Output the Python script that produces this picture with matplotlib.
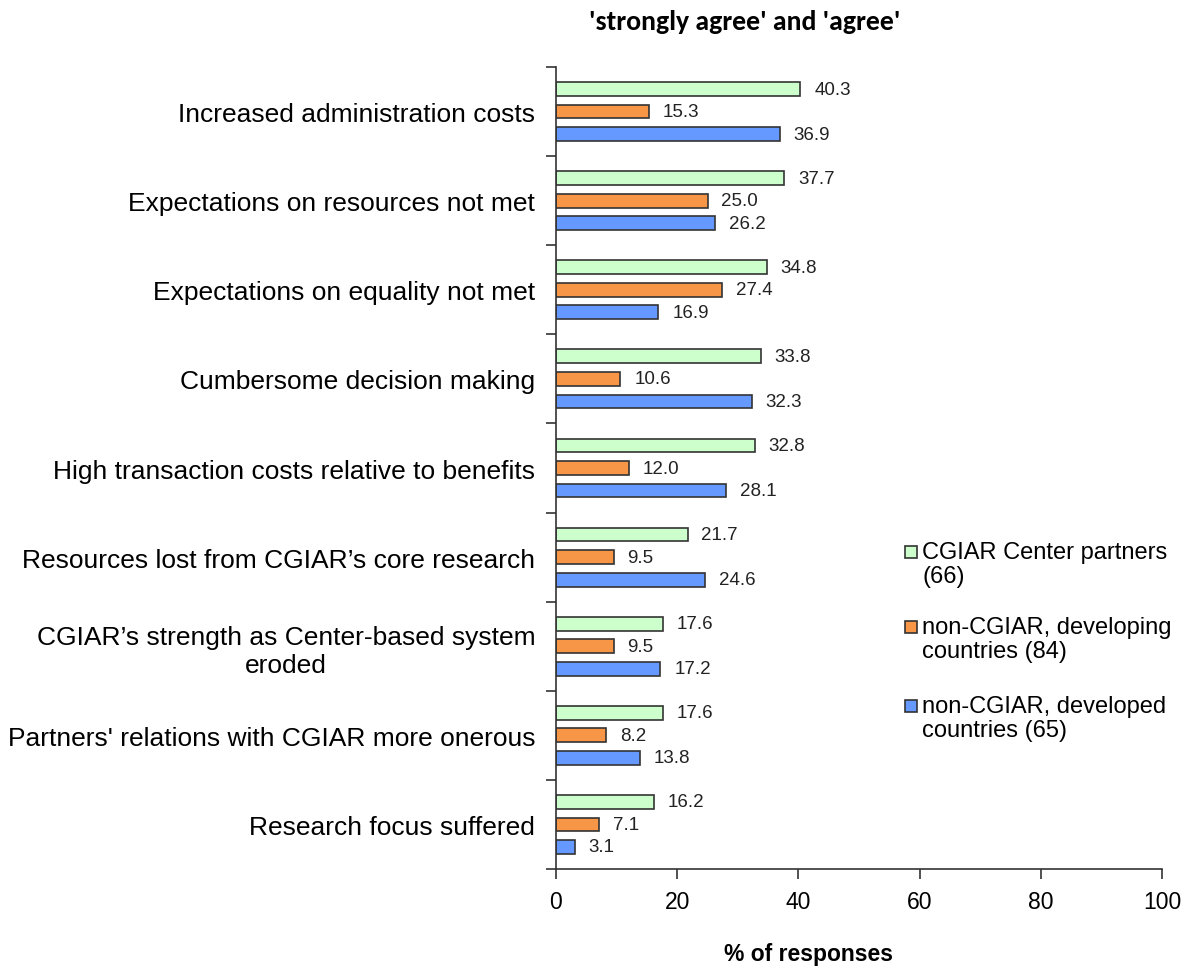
import matplotlib
matplotlib.use("Agg")
import matplotlib.pyplot as plt
from matplotlib import font_manager
from matplotlib.patches import Rectangle
import numpy as np

categories = [
    "Increased administration costs",
    "Expectations on resources not met",
    "Expectations on equality not met",
    "Cumbersome decision making",
    "High transaction costs relative to benefits",
    "Resources lost from CGIAR\u2019s core research",
    "CGIAR\u2019s strength as Center-based system\neroded",
    "Partners' relations with CGIAR more onerous",
    "Research focus suffered",
]
series_names = [
    "CGIAR Center partners\n(66)",
    "non-CGIAR, developing\ncountries (84)",
    "non-CGIAR, developed\ncountries (65)",
]
cgiar = [40.3, 37.7, 34.8, 33.8, 32.8, 21.7, 17.6, 17.6, 16.2]
developing = [15.3, 25.0, 27.4, 10.6, 12.0, 9.5, 9.5, 8.2, 7.1]
developed = [36.9, 26.2, 16.9, 32.3, 28.1, 24.6, 17.2, 13.8, 3.1]
xticks = [0, 20, 40, 60, 80, 100]

names = {f.name for f in font_manager.fontManager.ttflist}
base = "Liberation Sans" if "Liberation Sans" in names else "DejaVu Sans"
narrow = "Liberation Sans Narrow" if "Liberation Sans Narrow" in names else base
titlef = "Carlito" if "Carlito" in names else ("Lato" if "Lato" in names else base)

colors = ["#CCFFCC", "#F79646", "#6699FF"]
edge = "#333333"

fig = plt.figure(figsize=(11.92, 9.70), dpi=100)
ax = fig.add_axes([556/1192, 1-870/970, (1162-556)/1192, (870-68)/970])

n = len(categories)
centers = np.arange(n) + 0.5
h = 0.155
off = 0.253
data = [cgiar, developing, developed]
for k, (vals, c, lab) in enumerate(zip(data, colors, series_names)):
    y = centers + (k - 1) * off
    ax.barh(y, vals, height=h, color=c, edgecolor=edge, linewidth=1.2, label=lab)
    for yy, v in zip(y, vals):
        ax.text(v + 2.3, yy, f"{v:.1f}", va="center", ha="left",
                fontsize=13.5, family=narrow, color="#222222")

ax.set_xlim(0, 100)
ax.set_ylim(n, 0)
ax.set_xticks(xticks)
ax.set_xticklabels([str(t) for t in xticks], fontsize=16.5, family=base)
ax.set_yticks(np.arange(n + 1))
ax.set_yticklabels([])
ax.set_yticks(centers, minor=True)
ax.set_yticklabels(categories, minor=True, fontsize=19, family=base,
                   multialignment="center")
ax.tick_params(axis="y", which="minor", length=0, pad=15)
ax.tick_params(axis="y", which="major", length=7, width=1.2, color=edge)
ax.tick_params(axis="x", length=7, width=1.2, color=edge, pad=8)
for s in ["top", "right"]:
    ax.spines[s].set_visible(False)
for s in ["left", "bottom"]:
    ax.spines[s].set_color(edge)
    ax.spines[s].set_linewidth(1.2)

fig.text(808/1192, 1-955/970, "% of responses", ha="center", va="center",
         fontsize=16.5, family=base, weight="bold")
fig.text(745/1192, 1-22/970, "'strongly agree' and 'agree'", ha="center", va="center",
         fontsize=20, family=titlef, weight="bold")

# legend (manual layout: swatch aligned with first text line)
leg_y = [553, 628, 707]
for c, lab, yy in zip(colors, series_names, leg_y):
    fig.patches.append(Rectangle((905/1192, 1-(yy+6)/970), 12/1192, 12/970,
                                 transform=fig.transFigure, facecolor=c,
                                 edgecolor=edge, linewidth=1.2))
    fig.text(922/1192, 1-(yy-11)/970, lab, ha="left", va="top", fontsize=17,
             family=base, linespacing=1.1)

fig.savefig("out.png", dpi=100)
